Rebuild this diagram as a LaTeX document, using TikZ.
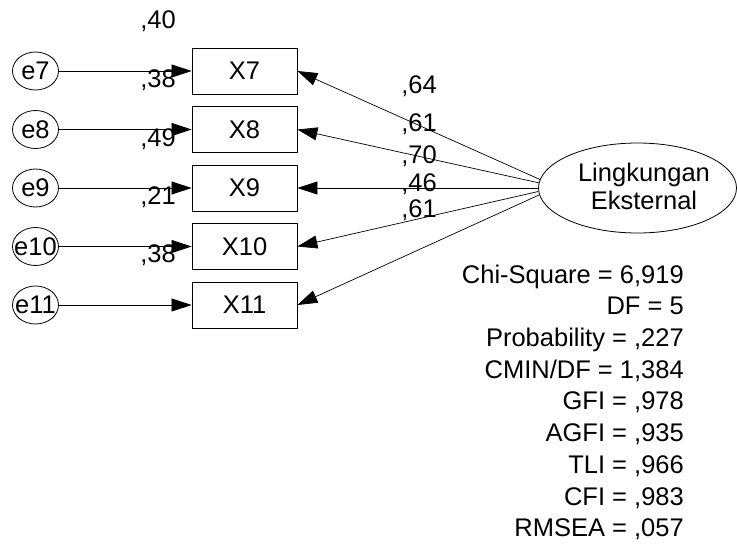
\documentclass[tikz,border=0pt]{standalone}
\usepackage{fontspec}
\setmainfont{Liberation Sans}
\usetikzlibrary{arrows.meta,shapes.geometric}
\begin{document}
\begin{tikzpicture}[x=1pt,y=-1pt,
  every node/.style={font=\fontsize{25.5}{28}\selectfont, inner sep=0pt},
  errc/.style={draw, ellipse, minimum width=46pt, minimum height=38pt, inner sep=-8pt, line width=0.8pt},
  obs/.style={draw, rectangle, minimum width=105pt, minimum height=46pt, line width=0.8pt},
  lat/.style={draw, ellipse, minimum width=198pt, minimum height=90pt, line width=0.8pt},
  arr/.style={line width=0.7pt, -{Triangle[length=20pt,width=13pt]}},
  lbl/.style={anchor=base},
  stat/.style={anchor=base east}]
\useasboundingbox (0,0) rectangle (737,544);
% error terms
\node[errc] (e7)  at (35.5,71)    {e7};
\node[errc] (e8)  at (35.5,129.5) {e8};
\node[errc] (e9)  at (35.5,188)   {e9};
\node[errc] (e10) at (35.5,246.5) {e10};
\node[errc] (e11) at (35.5,305)   {e11};
% observed
\node[obs] (x7)  at (244.5,71)    {X7};
\node[obs] (x8)  at (244.5,129.5) {X8};
\node[obs] (x9)  at (244.5,188)   {X9};
\node[obs] (x10) at (244.5,246.5) {X10};
\node[obs] (x11) at (244.5,305)   {X11};
% latent
\node[lat] (L) at (637.5,188) {};
\node[align=center] (Ltxt) at (644,186) {Lingkungan\\Eksternal};
% error arrows
\draw[arr] (e7.east)  -- (x7.west);
\draw[arr] (e8.east)  -- (x8.west);
\draw[arr] (e9.east)  -- (x9.west);
\draw[arr] (e10.east) -- (x10.west);
\draw[arr] (e11.east) -- (x11.west);
% loadings
\draw[arr] (L.175.9) -- (x7.east);
\draw[arr] (L.177.7) -- (x8.east);
\draw[arr] (L.180)   -- (x9.east);
\draw[arr] (L.182.3) -- (x10.east);
\draw[arr] (L.184.1) -- (x11.east);
% squared multiple correlations
\node[lbl] (r7)  at (158,28)  {,40};
\node[lbl] (r8)  at (158,87)  {,38};
\node[lbl] (r9)  at (158,146) {,49};
\node[lbl] (r10) at (158,204) {,21};
\node[lbl] (r11) at (158,262) {,38};
% loading labels
\node[lbl] (l7)  at (419,93)  {,64};
\node[lbl] (l8)  at (419,131) {,61};
\node[lbl] (l9)  at (419,163) {,70};
\node[lbl] (l10) at (419,191) {,46};
\node[lbl] (l11) at (419,217) {,61};
% fit statistics
\node[stat] (s1) at (684,283.1) {Chi-Square = 6,919};
\node[stat] (s2) at (684,314.8) {DF = 5};
\node[stat] (s3) at (684,346.5) {Probability = ,227};
\node[stat] (s4) at (684,378.2) {CMIN/DF = 1,384};
\node[stat] (s5) at (684,409.9) {GFI = ,978};
\node[stat] (s6) at (684,441.6) {AGFI = ,935};
\node[stat] (s7) at (684,473.3) {TLI = ,966};
\node[stat] (s8) at (684,505.0) {CFI = ,983};
\node[stat] (s9) at (684,536.7) {RMSEA = ,057};
\end{tikzpicture}
\end{document}
